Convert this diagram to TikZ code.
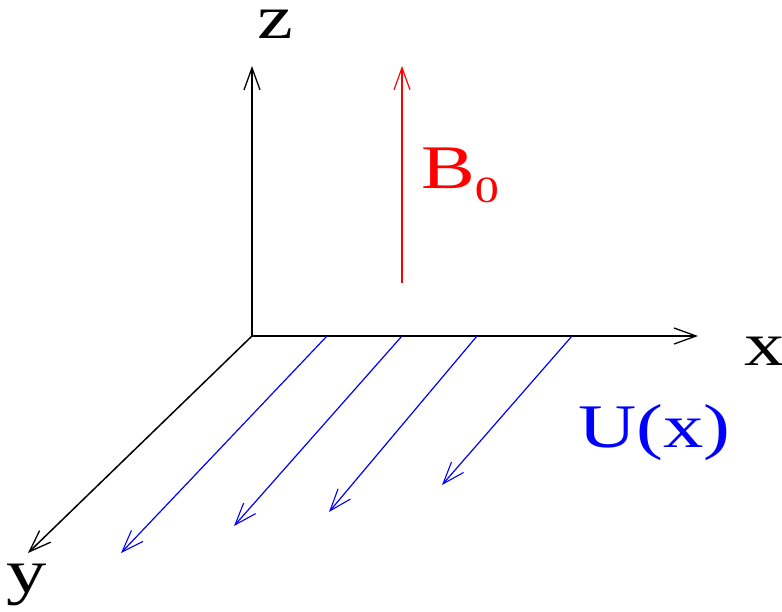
\documentclass[tikz,border=0pt]{standalone}
\usepackage{fontspec}
\setmainfont{Liberation Serif}
\usepackage{graphicx}
\usetikzlibrary{arrows.meta}

\newcommand{\widetext}[1]{\scalebox{1.3}[1]{#1}}

\begin{document}
\begin{tikzpicture}[
  x=1pt, y=-1pt,
  axis/.style={
    -{Straight Barb[length=22pt, width=16pt, line width=1.3pt]},
    line width=1.5pt,
    draw=black
  },
  field/.style={
    -{Straight Barb[length=22pt, width=16pt, line width=1.2pt]},
    line width=1.3pt,
    draw=red
  },
  flow/.style={
    -{Straight Barb[length=22pt, width=16pt, line width=1.1pt]},
    line width=1.2pt,
    draw=blue
  },
  lbl/.style={
    anchor=base west,
    inner sep=0pt,
    font=\fontsize{62}{70}\selectfont
  }
]
  \useasboundingbox (0,0) rectangle (782,611);

  % axes
  \coordinate (origin) at (252,336);
  \coordinate (zend) at (252,66);
  \coordinate (xend) at (698,336);
  \coordinate (yend) at (28,553);
  \draw[axis] (origin) -- (zend);
  \draw[axis] (origin) -- (xend);
  \draw[axis] (origin) -- (yend);

  \node[lbl] (zlabel) at (257,38) {\widetext{z}};
  \node[lbl] (xlabel) at (744,365) {\widetext{x}};
  \node[lbl] (ylabel) at (6,592) {\widetext{y}};

  % background field
  \coordinate (bstart) at (402,283);
  \coordinate (bend) at (402,66);
  \draw[field] (bstart) -- (bend);
  \node[lbl, text=red] (blabel) at (421,188)
    {\widetext{B\raisebox{-14pt}{\fontsize{37}{40}\selectfont 0}}};

  % shear flow
  \foreach \i/\sx/\ex/\ey in {1/327/121/553, 2/402/234/526, 3/477/329/512, 4/572/442/485} {
    \coordinate (ustart\i) at (\sx,336);
    \coordinate (uend\i) at (\ex,\ey);
    \draw[flow] (ustart\i) -- (uend\i);
  }
  \node[lbl, text=blue] (ulabel) at (578,447) {\widetext{U(x)}};
\end{tikzpicture}
\end{document}
